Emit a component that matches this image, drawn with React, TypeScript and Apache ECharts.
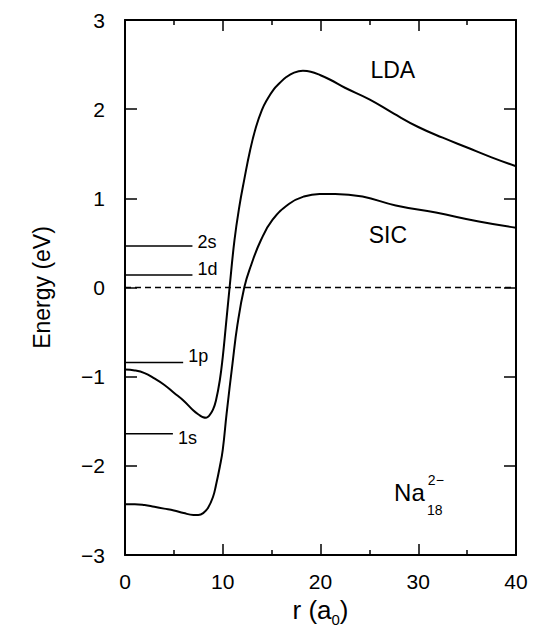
import React, { useEffect, useRef } from "react";
import * as echarts from "echarts";

// radius r (a0) and energies (eV)
const rLDA = [0, 1, 2, 3, 4, 5, 6, 7, 7.6, 8.0, 8.3, 8.6, 9.0, 9.3, 9.7, 10.0, 10.3, 10.7, 11.2, 11.7, 12.2, 12.8, 13.4, 14.0, 14.5, 15.2, 15.8, 16.5, 17.3, 18.2, 19.0, 20.0, 21.0, 22.5, 25.0, 27.5, 30.0, 32.5, 35.0, 37.5, 40];
const eLDA = [-0.92, -0.93, -0.96, -1.02, -1.09, -1.18, -1.27, -1.38, -1.43, -1.455, -1.46, -1.44, -1.37, -1.27, -1.04, -0.78, -0.45, 0.0, 0.53, 0.91, 1.21, 1.54, 1.80, 1.99, 2.10, 2.22, 2.29, 2.36, 2.41, 2.43, 2.42, 2.38, 2.33, 2.24, 2.11, 1.95, 1.80, 1.68, 1.57, 1.46, 1.36];

const rSIC = [0, 1, 2, 3, 4, 5, 6, 7, 7.5, 8, 8.5, 9, 9.3, 9.7, 10, 10.4, 11, 11.5, 12.2, 12.9, 13.9, 15.1, 16.8, 18.3, 19.9, 21.5, 24.3, 27.7, 31.8, 36.2, 40];
const eSIC = [-2.43, -2.43, -2.44, -2.46, -2.48, -2.50, -2.53, -2.55, -2.55, -2.53, -2.47, -2.35, -2.22, -2.01, -1.82, -1.41, -0.85, -0.42, 0.0, 0.25, 0.53, 0.76, 0.94, 1.02, 1.05, 1.05, 1.02, 0.92, 0.84, 0.74, 0.67];

// single-particle levels
const levelNames = ["2s", "1d", "1p", "1s"];
const levelEnergies = [0.465, 0.14, -0.84, -1.64];
const levelEnds = [6.9, 6.9, 5.95, 4.9];

// axes
const xTicks = [0, 10, 20, 30, 40];
const yTicks = [-3, -2, -1, 0, 1, 2, 3];

// text annotations (data coordinates)
const annotTexts = ["LDA", "SIC", "Na", "18", "2\u2212"];
const annotR = [27.4, 26.9, 29.1, 31.7, 31.8];
const annotE = [2.44, 0.59, -2.30, -2.49, -2.16];

const FONT = "'Liberation Sans', Arial, Helvetica, sans-serif";

export default function App() {
  const ref = useRef<HTMLDivElement>(null);
  useEffect(() => {
    document.body.style.margin = "0";
    if (!ref.current) return;
    const chart = echarts.init(ref.current, undefined, { renderer: "svg" });

    const xMin = xTicks[0];
    const xMax = xTicks[xTicks.length - 1];
    const yMin = yTicks[0];
    const yMax = yTicks[yTicks.length - 1];

    const axisLine = { show: true, onZero: false, lineStyle: { color: "#000", width: 2 } };
    const xCommon = {
      type: "value",
      min: xMin,
      max: xMax,
      interval: 10,
      axisLine,
      axisTick: { show: true, inside: true, length: 11, lineStyle: { color: "#000", width: 1.5 } },
      minorTick: { show: true, splitNumber: 2, length: 5, lineStyle: { color: "#000", width: 1.5 } },
      splitLine: { show: false },
      minorSplitLine: { show: false },
    };
    const yCommon = {
      type: "value",
      min: yMin,
      max: yMax,
      interval: 1,
      axisLine,
      axisTick: { show: true, inside: true, length: 12, lineStyle: { color: "#000", width: 1.5 } },
      splitLine: { show: false },
    };

    const fmt = (v: number) => (v < 0 ? "\u2212" + Math.abs(v) : String(v));

    const series: any[] = [
      {
        name: "LDA",
        type: "line",
        data: rLDA.map((r, i) => [r, eLDA[i]]),
        smooth: 0.45,
        showSymbol: false,
        symbol: "none",
        lineStyle: { color: "#000", width: 2 },
        z: 3,
      },
      {
        name: "SIC",
        type: "line",
        data: rSIC.map((r, i) => [r, eSIC[i]]),
        smooth: 0.45,
        showSymbol: false,
        symbol: "none",
        lineStyle: { color: "#000", width: 2 },
        z: 3,
      },
      {
        name: "zero",
        type: "line",
        data: [
          [xMin, 0],
          [xMax, 0],
        ],
        symbol: "none",
        lineStyle: { color: "#000", width: 1.5, type: [6, 4] },
      },
    ];

    levelNames.forEach((n, i) => {
      series.push({
        name: n,
        type: "line",
        data: [
          [xMin, levelEnergies[i]],
          [levelEnds[i], levelEnergies[i]],
        ],
        symbol: "none",
        lineStyle: { color: "#000", width: 1.5 },
      });
    });

    const levelDy = [-4, -6, -6, 4];
    series.push({
      name: "levelLabels",
      type: "scatter",
      symbolSize: 0,
      itemStyle: { color: "#000", opacity: 1 },
      data: levelNames.map((n, i) => ({
        value: [levelEnds[i], levelEnergies[i]],
        label: {
          show: true,
          position: "right",
          distance: 5,
          offset: [0, levelDy[i]],
          formatter: n,
          color: "#000",
          fontSize: 18,
          fontFamily: FONT,
        },
      })),
      z: 5,
    });

    const annotSizes = [23, 23, 24, 14, 14];
    series.push({
      name: "annotations",
      type: "scatter",
      symbolSize: 0,
      itemStyle: { color: "#000", opacity: 1 },
      data: annotTexts.map((t, i) => ({
        value: [annotR[i], annotE[i]],
        label: {
          show: true,
          position: "inside",
          formatter: t,
          color: "#000",
          textBorderWidth: 0,
          fontSize: annotSizes[i],
          fontFamily: FONT,
        },
      })),
      z: 5,
    });

    chart.setOption({
      animation: false,
      grid: { left: 125, right: 24, top: 20, bottom: 87 },
      xAxis: [
        {
          ...xCommon,
          position: "bottom",
          axisLabel: { show: true, margin: 16, color: "#000", fontSize: 21, fontFamily: FONT },
          name: "{m|r (a}{s|0}{m|)}",
          nameLocation: "middle",
          nameGap: 33,
          nameTextStyle: {
            color: "#000",
            fontFamily: FONT,
            rich: {
              m: { fontSize: 26, fontFamily: FONT, color: "#000", lineHeight: 34 },
              s: { fontSize: 15, fontFamily: FONT, color: "#000", verticalAlign: "bottom", lineHeight: 15 },
            },
          },
        },
        {
          ...xCommon,
          position: "top",
          axisLabel: { show: false },
        },
      ],
      yAxis: [
        {
          ...yCommon,
          position: "left",
          axisLabel: { show: true, margin: 20, color: "#000", fontSize: 21, fontFamily: FONT, formatter: fmt },
          name: "Energy (eV)",
          nameLocation: "middle",
          nameRotate: 90,
          nameGap: 72,
          nameTextStyle: { color: "#000", fontSize: 23, fontFamily: FONT },
        },
        {
          ...yCommon,
          position: "right",
          axisLabel: { show: false },
        },
      ],
      series,
    });

    return () => chart.dispose();
  }, []);

  return <div ref={ref} style={{ width: 540, height: 642 }} />;
}
